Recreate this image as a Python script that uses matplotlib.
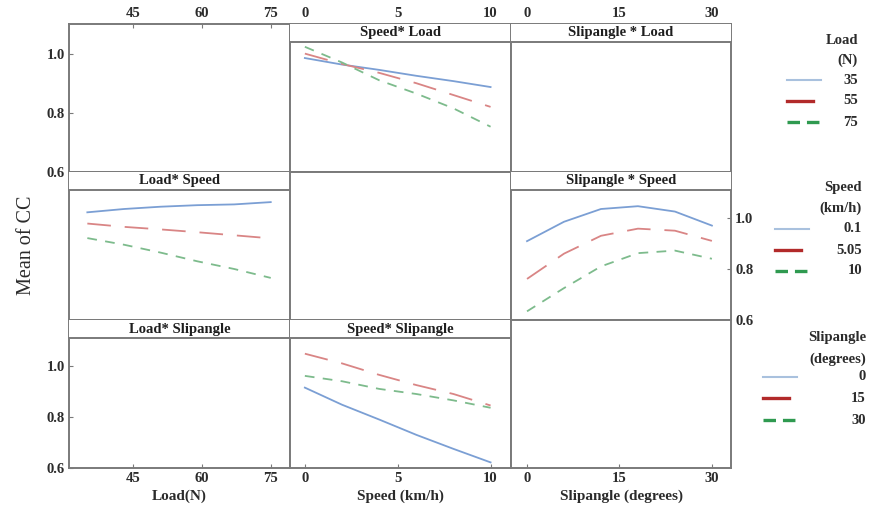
import numpy as np
import matplotlib
matplotlib.use("Agg")
import matplotlib.pyplot as plt
from matplotlib.lines import Line2D
from matplotlib.patches import Rectangle

plt.rcParams["font.family"] = ["Liberation Serif", "DejaVu Serif"]
plt.rcParams["lines.scale_dashes"] = False

# --- data ---
load_x = [35, 43, 51, 59, 67, 75]
speed_x = [0, 2, 4, 6, 8, 10]
slip_x = [0, 6, 12, 18, 24, 30]

load_levels = ["35", "55", "75"]
speed_levels = ["0.1", "5.05", "10"]
slip_levels = ["0", "15", "30"]

# Speed * Load (x = speed, one line per load)
speed_load_35 = [0.985, 0.963, 0.945, 0.925, 0.907, 0.887]
speed_load_55 = [1.000, 0.965, 0.935, 0.900, 0.860, 0.820]
speed_load_75 = [1.023, 0.970, 0.910, 0.865, 0.815, 0.753]

# Load * Speed (x = load, one line per speed)
load_speed_01 = [1.022, 1.035, 1.044, 1.050, 1.053, 1.062]
load_speed_505 = [0.978, 0.965, 0.955, 0.944, 0.932, 0.920]
load_speed_10 = [0.921, 0.895, 0.864, 0.830, 0.800, 0.765]

# Slipangle * Speed (x = slip angle, one line per speed)
slip_speed_01 = [0.909, 0.985, 1.035, 1.046, 1.025, 0.970]
slip_speed_505 = [0.761, 0.860, 0.930, 0.958, 0.950, 0.910]
slip_speed_10 = [0.634, 0.725, 0.810, 0.862, 0.872, 0.840]

# Speed * Slipangle (x = speed, one line per slip angle)
speed_slip_0 = [0.915, 0.848, 0.790, 0.730, 0.675, 0.622]
speed_slip_15 = [1.048, 1.010, 0.965, 0.925, 0.890, 0.845]
speed_slip_30 = [0.961, 0.940, 0.910, 0.890, 0.865, 0.836]

# --- styles ---
W, H = 869, 516
line_cols = ["#7b9fd4", "#d98585", "#7dbb8c"]
leg_cols = ["#a9c1de", "#b22a2a", "#2f9a50"]
styles = ["-", (0, (17, 10)), (0, (7, 6))]
frame = "#7a7a7a"
txt = "#2b2b2b"

fig = plt.figure(figsize=(W / 100, H / 100), dpi=100)

col_edges = [69, 290, 511, 731]
row_edges = [24, 172, 320, 468]
xlims = [(31, 79.2), (-0.8, 11.1), (-2.6, 33.1)]
xticks = [[45, 60, 75], [0, 5, 10], [0, 15, 30]]
ylims = [(0.6, 1.10), (0.6, 1.18), (0.6, 1.18)]
yticks = [0.6, 0.8, 1.0]

titles = {
    (0, 1): "Speed* Load",
    (0, 2): "Slipangle * Load",
    (1, 0): "Load* Speed",
    (1, 2): "Slipangle * Speed",
    (2, 0): "Load* Slipangle",
    (2, 1): "Speed* Slipangle",
}

series = {
    (0, 1): (speed_x, [speed_load_35, speed_load_55, speed_load_75]),
    (1, 0): (load_x, [load_speed_01, load_speed_505, load_speed_10]),
    (1, 2): (slip_x, [slip_speed_01, slip_speed_505, slip_speed_10]),
    (2, 1): (speed_x, [speed_slip_0, speed_slip_15, speed_slip_30]),
}

strip_px = 18
for r in range(3):
    for c in range(3):
        x0, x1 = col_edges[c], col_edges[c + 1]
        y0, y1 = row_edges[r], row_edges[r + 1]
        ax = fig.add_axes([x0 / W, 1 - y1 / H, (x1 - x0) / W, (y1 - y0) / H])
        ax.set_xlim(*xlims[c])
        ax.set_ylim(*ylims[r])
        for s in ax.spines.values():
            s.set_color(frame)
            s.set_linewidth(1.4)

        if (r, c) in series:
            xs, ys = series[(r, c)]
            for k, yv in enumerate(ys):
                ax.plot(xs, yv, color=line_cols[k], linestyle=styles[k], lw=1.3)

        if (r, c) in titles:
            frac = strip_px / (y1 - y0)
            ax.add_patch(Rectangle((0, 1 - frac), 1, frac, transform=ax.transAxes,
                                   facecolor="white", edgecolor="none", zorder=5))
            ax.plot([0, 1], [1 - frac, 1 - frac], transform=ax.transAxes,
                    color=frame, lw=1.4, zorder=6, clip_on=False)
            ax.text(0.5, 1 - frac / 2, titles[(r, c)], transform=ax.transAxes,
                    ha="center", va="center", fontsize=10.5, fontweight="bold",
                    color="#1e1e1e", zorder=7)

        ax.tick_params(direction="in", length=3, color=frame, labelsize=10.5,
                       labelcolor=txt, pad=3)
        # x ticks: top row on top, bottom row at bottom
        if r == 0:
            ax.xaxis.tick_top()
            ax.set_xticks(xticks[c])
        elif r == 2:
            ax.set_xticks(xticks[c])
        else:
            ax.set_xticks([])
        # y ticks
        if c == 0 and r in (0, 2):
            ax.set_yticks(yticks)
            ax.set_yticklabels(["0.6", "0.8", "1.0"])
        elif c == 2 and r == 1:
            ax.yaxis.tick_right()
            ax.set_yticks(yticks)
            ax.set_yticklabels(["0.6", "0.8", "1.0"])
        else:
            ax.set_yticks([])
        for lab in ax.get_xticklabels() + ax.get_yticklabels():
            lab.set_fontweight("bold")

# axis labels
fig.text(27 / W, 1 - 245 / H, "Mean of CC", rotation=90, ha="center", va="center",
         fontsize=14.5, color=txt)
xlabels = ["Load(N)", "Speed (km/h)", "Slipangle (degrees)"]
for c, lab in enumerate(xlabels):
    xc = (col_edges[c] + col_edges[c + 1]) / 2
    fig.text(xc / W, 1 - 496 / H, lab, ha="center", va="center", fontsize=11,
             fontweight="bold", color=txt)

# legends at the right
legends = [
    ("Load", "(N)", load_levels, 858, 787, [40, 60, 80, 101, 122]),
    ("Speed", "(km/h)", speed_levels, 862, 775, [188, 208, 229, 250, 271]),
    ("Slipangle", "(degrees)", slip_levels, 866, 763, [338, 359, 377, 398, 420]),
]
for t1, t2, levels, xr, xl, ys in legends:
    fig.text(xr / W, 1 - ys[0] / H, t1, ha="right", va="center", fontsize=10.5,
             fontweight="bold", color=txt)
    fig.text(xr / W, 1 - ys[1] / H, t2, ha="right", va="center", fontsize=10.5,
             fontweight="bold", color=txt)
    for k, lev in enumerate(levels):
        yy = 1 - ys[k + 2] / H
        ln = 34 if k != 1 else 26
        fig.add_artist(Line2D([xl / W, (xl + ln) / W], [yy, yy], color=leg_cols[k],
                              lw=2.4 if k else 1.5,
                              linestyle=["-", "-", (0, (9, 5))][k]))
        fig.text(xr / W, yy, lev, ha="right", va="center", fontsize=10.5,
                 fontweight="bold", color=txt)

fig.savefig("out.png", dpi=100)
